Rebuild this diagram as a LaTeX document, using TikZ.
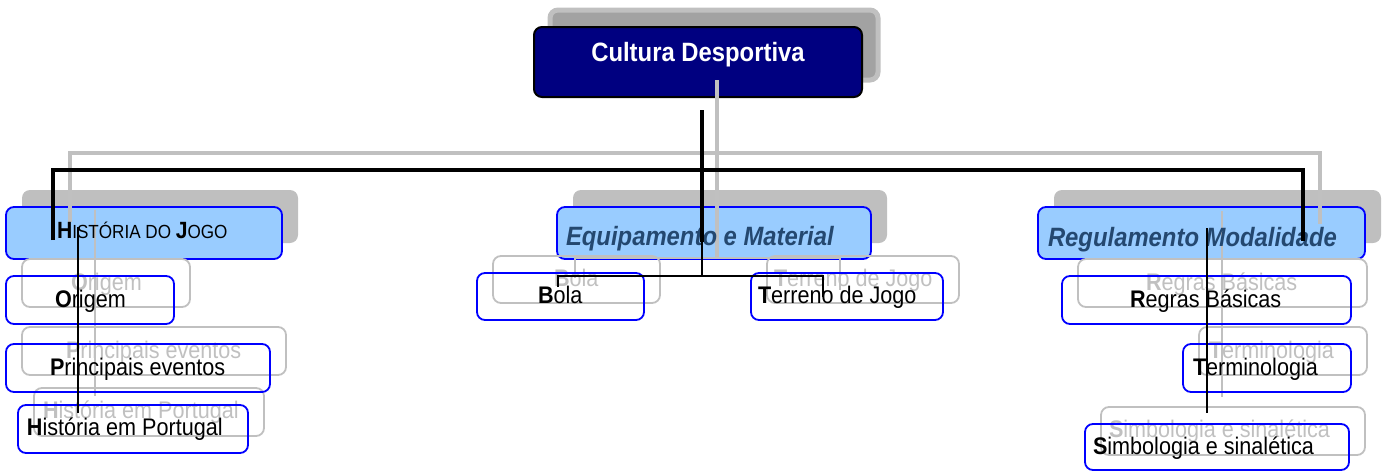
\documentclass[tikz,border=0pt]{standalone}
\usepackage{fontspec}
\setmainfont{Liberation Sans}[FakeStretch=0.9]
\usepackage{tikz}
\definecolor{navyfill}{RGB}{0,0,128}
\definecolor{paleblue}{RGB}{153,204,255}
\definecolor{shadowgray}{RGB}{191,191,191}
\definecolor{darkshadow}{RGB}{162,162,162}
\definecolor{ghostgray}{RGB}{192,192,192}
\definecolor{slatetext}{RGB}{36,72,112}
\definecolor{boxblue}{RGB}{0,0,255}
\newcommand{\sizetop}{\fontsize{26.5}{30}\selectfont}
\newcommand{\sizemain}{\fontsize{26.5}{30}\selectfont}
\newcommand{\sizesub}{\fontsize{24}{28}\selectfont}
\newcommand{\sizecap}{\fontsize{19}{22}\selectfont}
\newcommand{\sizeinit}{\fontsize{23.5}{26}\selectfont}

\begin{document}
\begin{tikzpicture}[x=1pt,y=-1pt]
\tikzstyle{every node}+=[inner sep=0pt, outer sep=0pt]
\tikzstyle{topbox}=[anchor=north west, draw=black, line width=2pt, fill=navyfill, rounded corners=8pt]
\tikzstyle{topshadow}=[anchor=north west, draw=ghostgray, line width=5pt, fill=darkshadow, rounded corners=8pt]
\tikzstyle{mainbox}=[anchor=north west, draw=boxblue, line width=1.8pt, fill=paleblue, rounded corners=8pt]
\tikzstyle{mainshadow}=[anchor=north west, fill=shadowgray, rounded corners=8pt]
\tikzstyle{subbox}=[anchor=north west, draw=boxblue, line width=1.8pt, rounded corners=8pt]
\tikzstyle{subghost}=[anchor=north west, draw=ghostgray, line width=1.8pt, rounded corners=8pt]
\tikzstyle{label}=[anchor=base west, text=black]
\tikzstyle{ghostlabel}=[anchor=base west, text=ghostgray]
\tikzstyle{blackthick}=[black, line width=4.5pt]
\tikzstyle{blackthin}=[black, line width=1.8pt]
\tikzstyle{graythick}=[ghostgray, line width=4.5pt]
\tikzstyle{graythin}=[ghostgray, line width=1.8pt]
\useasboundingbox (0,0) rectangle (1389,471);

\node[topshadow, minimum width=328pt, minimum height=70pt] (cd-sh) at (550,10) {};
\node[mainshadow, minimum width=276pt, minimum height=53pt] (hj-sh) at (22,190) {};
\node[mainshadow, minimum width=314pt, minimum height=53pt] (em-sh) at (573,190) {};
\node[mainshadow, minimum width=327pt, minimum height=53pt] (rm-sh) at (1054,190) {};
\node[ghostlabel] (hj-gt) at (73,221) {{\sizeinit\bfseries H}{\sizecap ISTÓRIA DO }{\sizeinit\bfseries J}{\sizecap OGO}};
\node[ghostlabel] (em-gt) at (582,228) {\sizemain\bfseries\itshape Equipamento e Material};
\node[ghostlabel] (rm-gt) at (1064,229) {\sizemain\bfseries\itshape Regulamento Modalidade};

\node[topbox, minimum width=328pt, minimum height=70pt] (cd) at (534,27) {};
\node[anchor=base, text=white] (cd-t) at (698,61) {\sizetop\bfseries Cultura Desportiva};
\node[mainbox, minimum width=276pt, minimum height=52pt] (hj) at (6,207) {};
\node[mainbox, minimum width=314pt, minimum height=52pt] (em) at (557,207) {};
\node[mainbox, minimum width=327pt, minimum height=52pt] (rm) at (1038,207) {};

\coordinate (g-trunk-top) at (717,80);
\coordinate (g-trunk-bot) at (717,258);
\coordinate (g-bus-left) at (70,153);
\coordinate (g-bus-right) at (1320,153);
\coordinate (g-hj-in) at (70,222);
\coordinate (g-rm-in) at (1320,224);
\draw[graythick] (g-trunk-top) -- (g-trunk-bot);
\draw[graythick] (g-hj-in) -- (g-bus-left) -- (g-bus-right) -- (g-rm-in);
\coordinate (g-bo-in) at (575,278);
\coordinate (g-tj-in) at (840,290);
\draw[graythin] (g-bo-in) |- (g-trunk-bot) -| (g-tj-in);
\coordinate (g-hj-top) at (95,210);
\coordinate (g-hj-bot) at (95,396);
\draw[graythin] (g-hj-top) -- (g-hj-bot);
\coordinate (g-rm-top) at (1222,211);
\coordinate (g-rm-bot) at (1222,397);
\draw[graythin] (g-rm-top) -- (g-rm-bot);

\node[subghost, minimum width=168pt, minimum height=48pt] (or-g) at (22,259) {};
\node[subghost, minimum width=264pt, minimum height=48pt] (pe-g) at (22,327) {};
\node[subghost, minimum width=230pt, minimum height=48pt] (hp-g) at (34,388) {};
\node[subghost, minimum width=167pt, minimum height=47pt] (bo-g) at (493,256) {};
\node[subghost, minimum width=192pt, minimum height=47pt] (tj-g) at (767,256) {};
\node[subghost, minimum width=289pt, minimum height=48pt] (rb-g) at (1078,259) {};
\node[subghost, minimum width=168pt, minimum height=48pt] (te-g) at (1199,327) {};
\node[subghost, minimum width=264pt, minimum height=48pt] (ss-g) at (1101,407) {};
\node[ghostlabel] (or-gt) at (71,290) {\sizesub\textbf{O}rigem};
\node[ghostlabel] (pe-gt) at (66,358) {\sizesub\textbf{P}rincipais eventos};
\node[ghostlabel] (hp-gt) at (43,418) {\sizesub\textbf{H}istória em Portugal};
\node[ghostlabel] (bo-gt) at (554,286) {\sizesub\textbf{B}ola};
\node[ghostlabel] (tj-gt) at (774,286) {\sizesub\textbf{T}erreno de Jogo};
\node[ghostlabel] (rb-gt) at (1146,290) {\sizesub\textbf{R}egras Básicas};
\node[ghostlabel] (te-gt) at (1209,358) {\sizesub\textbf{T}erminologia};
\node[ghostlabel] (ss-gt) at (1109,437) {\sizesub\textbf{S}imbologia e sinalética};

\node[subbox, minimum width=168pt, minimum height=48pt] (or) at (6,276) {};
\node[subbox, minimum width=264pt, minimum height=48pt] (pe) at (6,344) {};
\node[subbox, minimum width=230pt, minimum height=48pt] (hp) at (18,405) {};
\node[subbox, minimum width=167pt, minimum height=47pt] (bo) at (477,273) {};
\node[subbox, minimum width=192pt, minimum height=47pt] (tj) at (751,273) {};
\node[subbox, minimum width=289pt, minimum height=48pt] (rb) at (1062,276) {};
\node[subbox, minimum width=168pt, minimum height=48pt] (te) at (1183,344) {};
\node[subbox, minimum width=264pt, minimum height=46pt] (ss) at (1085,424) {};

\node[label] (hj-t) at (57,238) {{\sizeinit\bfseries H}{\sizecap ISTÓRIA DO }{\sizeinit\bfseries J}{\sizecap OGO}};
\node[label, text=slatetext] (em-t) at (566,245) {\sizemain\bfseries\itshape Equipamento e Material};
\node[label, text=slatetext] (rm-t) at (1048,246) {\sizemain\bfseries\itshape Regulamento Modalidade};
\node[label] (or-t) at (55,307) {\sizesub\textbf{O}rigem};
\node[label] (pe-t) at (50,375) {\sizesub\textbf{P}rincipais eventos};
\node[label] (hp-t) at (27,435) {\sizesub\textbf{H}istória em Portugal};
\node[label] (bo-t) at (538,303) {\sizesub\textbf{B}ola};
\node[label] (tj-t) at (758,303) {\sizesub\textbf{T}erreno de Jogo};
\node[label] (rb-t) at (1130,307) {\sizesub\textbf{R}egras Básicas};
\node[label] (te-t) at (1193,375) {\sizesub\textbf{T}erminologia};
\node[label] (ss-t) at (1093,454) {\sizesub\textbf{S}imbologia e sinalética};

\coordinate (trunk-top) at (702,110);
\coordinate (trunk-mid) at (702,242);
\coordinate (trunk-bot) at (702,276);
\coordinate (bus-left) at (53,170);
\coordinate (bus-right) at (1303,170);
\coordinate (hj-in) at (53,240);
\coordinate (rm-in) at (1303,241);
\draw[blackthick] (trunk-top) -- (trunk-mid);
\draw[blackthick] (hj-in) -- (bus-left) -- (bus-right) -- (rm-in);
\coordinate (bo-in) at (558,287);
\coordinate (tj-in) at (823,297);
\draw[blackthin] (trunk-mid) -- (trunk-bot);
\draw[blackthin] (bo-in) |- (trunk-bot) -| (tj-in);
\coordinate (hj-stem) at (78,227);
\coordinate (hp-in) at (78,413);
\draw[blackthin] (hj-stem) -- (hp-in);
\coordinate (rm-stem) at (1207,228);
\coordinate (ss-in) at (1207,413);
\draw[blackthin] (rm-stem) -- (ss-in);
\end{tikzpicture}
\end{document}
